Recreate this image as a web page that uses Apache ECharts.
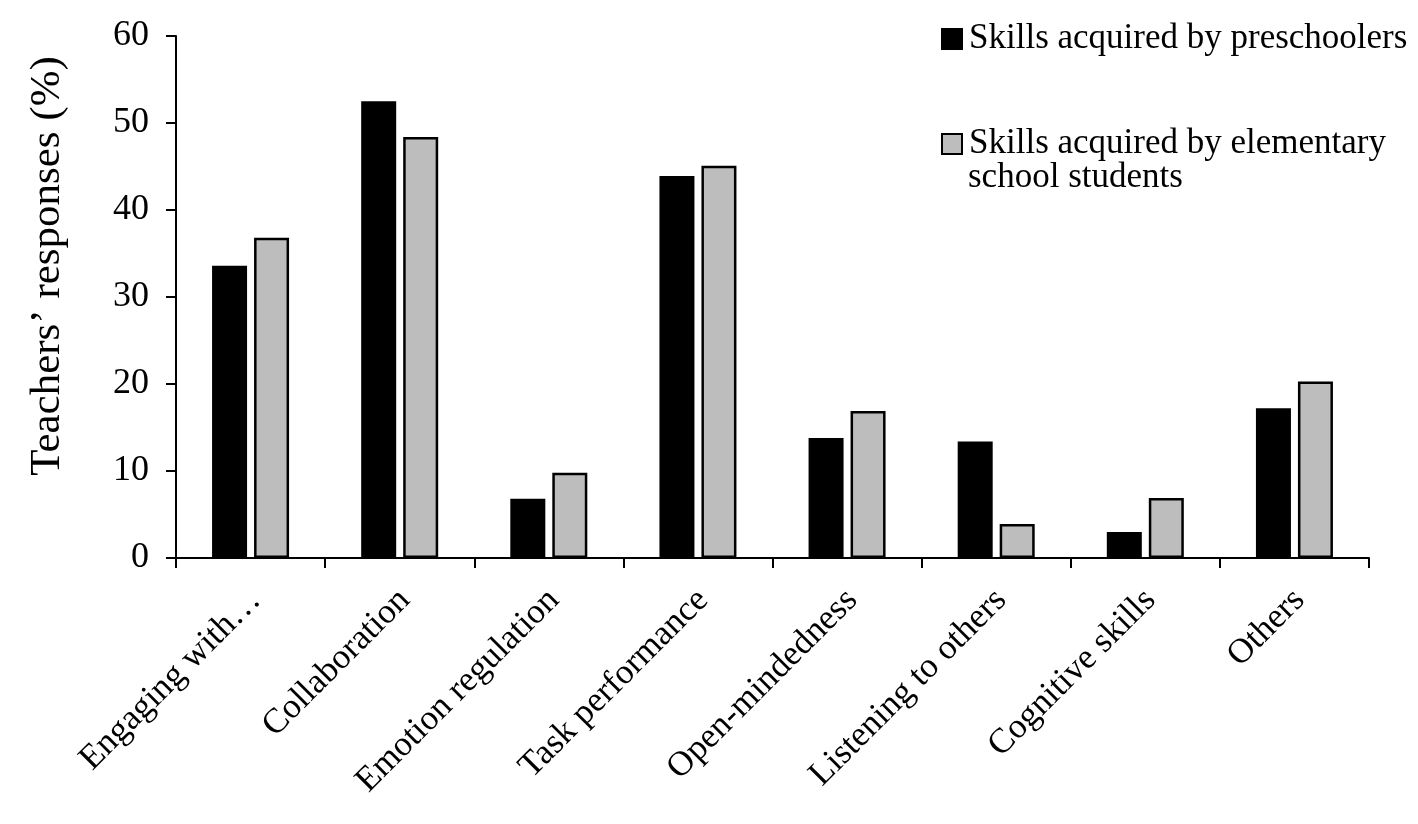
<!DOCTYPE html>
<html>
<head>
<meta charset="utf-8">
<script src="https://cdn.jsdelivr.net/npm/echarts@6/dist/echarts.min.js"></script>
<style>
html,body{margin:0;padding:0;background:#fff;}
#chart{width:1418px;height:824px;}
</style>
</head>
<body>
<div id="chart"></div>
<script>
const categories = ['Engaging with…', 'Collaboration', 'Emotion regulation', 'Task performance', 'Open-mindedness', 'Listening to others', 'Cognitive skills', 'Others'];
const preschoolers = [33.6, 52.5, 6.8, 43.9, 13.8, 13.4, 3.0, 17.2];
const elementary = [36.8, 48.4, 9.8, 45.1, 16.9, 3.9, 6.9, 20.3];
const seriesNames = ['Skills acquired by preschoolers', 'Skills acquired by elementary school students'];
const legendLabels = ['Skills acquired by preschoolers', 'Skills acquired by elementary'];
const legendSecondLine = 'school students';
const yAxisTitle = 'Teachers’ responses (%)';
const yTicks = [0, 10, 20, 30, 40, 50, 60];

const FONT = '"Liberation Serif", "Times New Roman", serif';
const chart = echarts.init(document.getElementById('chart'), null, {renderer: 'canvas'});
chart.setOption({
  animation: false,
  backgroundColor: '#fff',
  textStyle: {fontFamily: FONT, color: '#000'},
  grid: {left: 176, right: 49, top: 36, bottom: 266, containLabel: false},
  legend: {
    orient: 'vertical',
    left: 941,
    top: 21,
    padding: 0,
    itemWidth: 20,
    itemHeight: 20,
    itemGap: 69,
    icon: 'rect',
    data: seriesNames,
    formatter: function (name) { return legendLabels[seriesNames.indexOf(name)]; },
    textStyle: {fontFamily: FONT, fontSize: 35, color: '#000', lineHeight: 36, padding: [0, 0, 0, 2]},
    selectedMode: false
  },
  graphic: [
    {type: 'text', left: 968, top: 160, style: {text: legendSecondLine, font: '35px ' + FONT, fill: '#000'}},
    {type: 'text', x: 48, y: 266, rotation: Math.PI / 2,
     style: {text: yAxisTitle, font: '43px ' + FONT, fill: '#000', align: 'center', verticalAlign: 'middle'}}
  ],
  xAxis: {
    type: 'category',
    data: categories,
    boundaryGap: true,
    axisLine: {show: true, lineStyle: {color: '#000', width: 2}},
    axisTick: {show: true, inside: false, length: 10, lineStyle: {color: '#000', width: 2}},
    axisLabel: {rotate: 45, interval: 0, margin: 32, verticalAlign: 'top', lineHeight: 14, fontFamily: FONT, fontSize: 35, color: '#000'},
    splitLine: {show: false}
  },
  yAxis: {
    type: 'value',
    min: yTicks[0],
    max: yTicks[yTicks.length - 1],
    interval: 10,
    axisLine: {show: true, lineStyle: {color: '#000', width: 2}},
    axisTick: {show: true, inside: false, length: 10, lineStyle: {color: '#000', width: 2}},
    axisLabel: {margin: 27, fontFamily: FONT, fontSize: 36, color: '#000'},
    splitLine: {show: false}
  },
  series: [
    {name: seriesNames[0], type: 'bar', data: preschoolers, barWidth: 35, barGap: '20%',
     itemStyle: {color: '#000', borderColor: '#000', borderWidth: 2}},
    {name: seriesNames[1], type: 'bar', data: elementary, barWidth: 35, barGap: '20%',
     itemStyle: {color: '#bdbdbd', borderColor: '#000', borderWidth: 2.5}}
  ]
});
</script>
</body>
</html>
